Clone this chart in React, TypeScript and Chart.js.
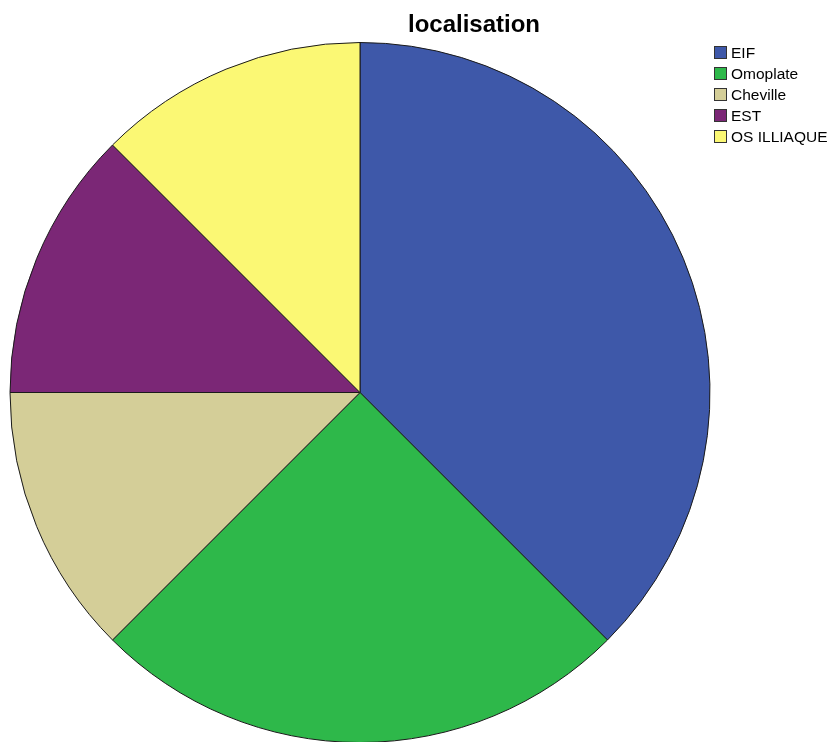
import React, { useEffect, useRef } from "react";
import { Chart, registerables } from "chart.js";

Chart.register(...registerables);

const chartTitle = "localisation";
const categories = ["EIF", "Omoplate", "Cheville", "EST", "OS ILLIAQUE"];
const counts = [3, 2, 1, 1, 1];
const sliceColors = ["#3E58A9", "#2EB84A", "#D4CE98", "#7B2776", "#FBF874"];

const overlayPlugin = {
  id: "overlay",
  afterDraw(chart: any) {
    const ctx = chart.ctx;
    ctx.save();
    ctx.fillStyle = "#000";
    ctx.font = "bold 24px 'Liberation Sans', Arial, sans-serif";
    ctx.textAlign = "center";
    ctx.textBaseline = "alphabetic";
    ctx.fillText(chartTitle, 474, 32);

    ctx.font = "15.5px 'Liberation Sans', Arial, sans-serif";
    ctx.textAlign = "left";
    ctx.textBaseline = "middle";
    const labels = chart.data.labels as string[];
    const colors = chart.data.datasets[0].backgroundColor as string[];
    labels.forEach((lab, i) => {
      const cy = 52.5 + i * 21;
      ctx.fillStyle = colors[i];
      ctx.fillRect(714, cy - 6.5, 13, 13);
      ctx.strokeStyle = "#333";
      ctx.lineWidth = 1;
      ctx.strokeRect(714.5, cy - 6, 12, 12);
      ctx.fillStyle = "#000";
      ctx.fillText(lab, 731, cy + 1);
    });
    ctx.restore();
  },
};

export default function App() {
  const ref = useRef<HTMLCanvasElement>(null);
  useEffect(() => {
    if (!ref.current) return;
    const chart = new Chart(ref.current, {
      type: "pie",
      data: {
        labels: categories,
        datasets: [
          {
            data: counts,
            backgroundColor: sliceColors,
            borderColor: "#1a1a1a",
            borderWidth: 1,
          },
        ],
      },
      options: {
        responsive: false,
        animation: false,
        events: [],
        radius: 350,
        layout: { padding: { left: 10, top: 43, right: 121, bottom: 0 } },
        plugins: {
          legend: { display: false },
          title: { display: false },
          tooltip: { enabled: false },
        },
      } as any,
      plugins: [overlayPlugin],
    });
    return () => chart.destroy();
  }, []);
  return (
    <div style={{ position: "fixed", left: 0, top: 0, width: 831, height: 742, background: "#fff" }}>
      <canvas ref={ref} width={831} height={742} style={{ display: "block" }} />
    </div>
  );
}
